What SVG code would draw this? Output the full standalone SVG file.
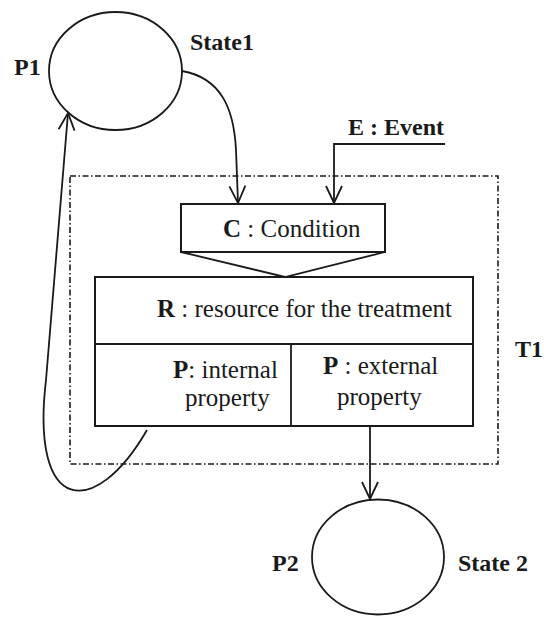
<svg xmlns="http://www.w3.org/2000/svg" width="544" height="617" viewBox="0 0 544 617">
  <style>
    .shape { fill: #ffffff; stroke: #1a1a1a; stroke-width: 2; }
    .state { fill: #ffffff; stroke: #1a1a1a; stroke-width: 1.8; }
    .wire { fill: none; stroke: #1a1a1a; stroke-width: 1.8; }
    .bound { fill: none; stroke: #1a1a1a; stroke-width: 1.6; stroke-dasharray: 6 2.5 1.5 2.5; }
    .txt { font-family: "Liberation Serif", "Times New Roman", serif; font-size: 25px; fill: #1a1a1a; }
    .lbl { font-family: "Liberation Serif", "Times New Roman", serif; font-size: 24px; font-weight: bold; fill: #1a1a1a; }
    .b { font-weight: bold; }
  </style>
  <defs>
    <marker id="arrow" markerUnits="userSpaceOnUse" markerWidth="22" markerHeight="22" viewBox="-20 -11 22 22" refX="0" refY="0" orient="auto">
      <path d="M-17,-8 L0,0 L-17,8" fill="none" stroke="#1a1a1a" stroke-width="1.8"/>
    </marker>
  </defs>
  <rect width="544" height="617" fill="#ffffff"/>

  <!-- transition boundary -->
  <g id="T1">
    <rect class="bound" x="70" y="176" width="428" height="288"/>
    <text class="lbl" x="515" y="357">T1</text>
  </g>

  <!-- places -->
  <g id="P1">
    <ellipse class="state" cx="115.5" cy="71" rx="66.5" ry="59"/>
    <text class="lbl" x="14" y="75">P1</text>
    <text class="lbl" x="190" y="50">State1</text>
  </g>
  <g id="P2">
    <ellipse class="state" cx="378" cy="557" rx="66" ry="57.5"/>
    <text class="lbl" x="272" y="571">P2</text>
    <text class="lbl" x="458" y="571">State 2</text>
  </g>

  <!-- condition guard -->
  <g id="condition">
    <rect class="shape" x="181" y="204" width="204" height="48"/>
    <polyline class="wire" points="181,252 285,277 385,252"/>
    <text class="txt" x="223" y="237"><tspan class="b">C</tspan> : Condition</text>
  </g>

  <!-- treatment resource block -->
  <g id="resource">
    <rect class="shape" x="95" y="277" width="378" height="149"/>
    <line class="wire" x1="95" y1="344" x2="473" y2="344" stroke-width="2"/>
    <line class="wire" x1="291" y1="344" x2="291" y2="426" stroke-width="2"/>
    <text class="txt" x="157" y="317"><tspan class="b">R</tspan> : resource for the treatment</text>
    <text class="txt" x="173" y="378"><tspan class="b">P</tspan>: internal</text>
    <text class="txt" x="185" y="406">property</text>
    <text class="txt" x="323" y="374"><tspan class="b">P</tspan> : external</text>
    <text class="txt" x="337" y="405">property</text>
  </g>

  <!-- event source -->
  <g id="event">
    <text class="lbl" x="348" y="135">E : Event</text>
  </g>

  <!-- connectors -->
  <g id="connectors">
    <path class="wire" d="M182,71 C222,78 234,110 236,150 L238,203" marker-end="url(#arrow)"/>
    <path class="wire" d="M445,144 L334,144 L334,203" marker-end="url(#arrow)"/>
    <path class="wire" d="M370,426 L370,499" marker-end="url(#arrow)"/>
    <path class="wire" d="M147,430 C95,520 30,515 46,380 L68,113" marker-end="url(#arrow)"/>
  </g>
</svg>
